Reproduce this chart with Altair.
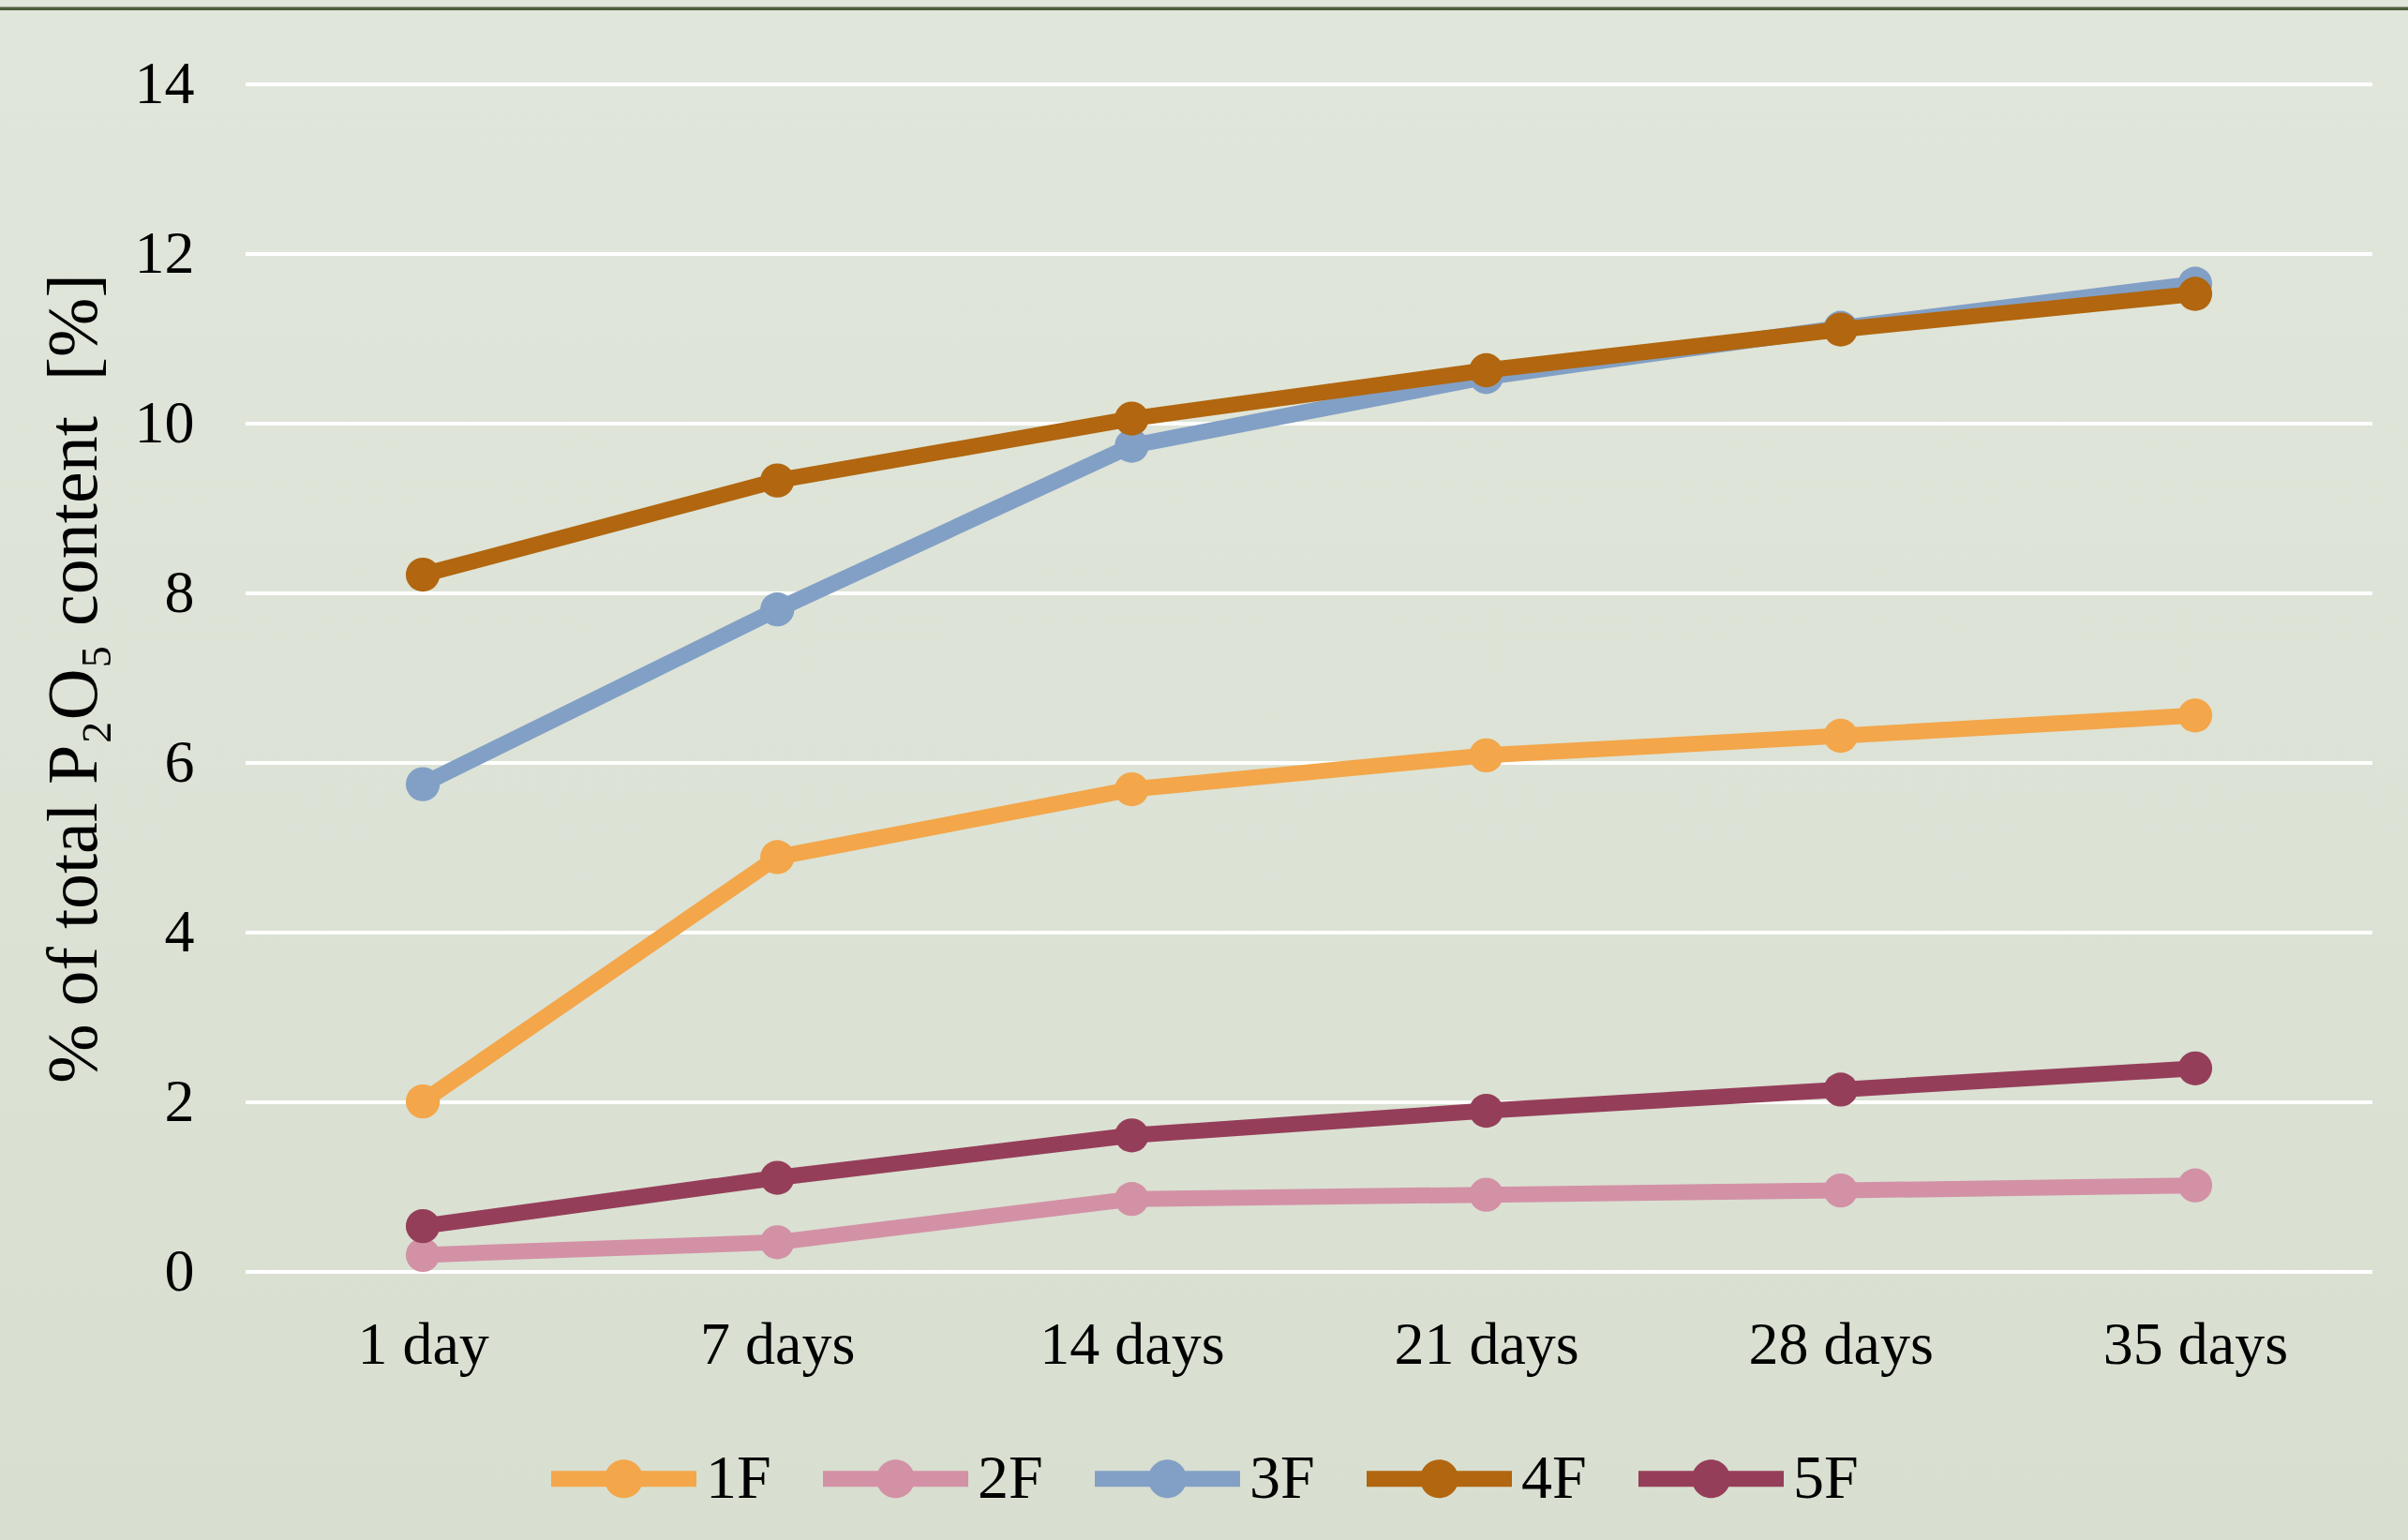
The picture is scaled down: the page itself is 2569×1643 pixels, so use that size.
import altair as alt
import pandas as pd

# ---- data ----
days = ["1 day", "7 days", "14 days", "21 days", "28 days", "35 days"]
series = ["1F", "2F", "3F", "4F", "5F"]
v_1F = [2.01, 4.89, 5.69, 6.09, 6.32, 6.56]
v_2F = [0.20, 0.35, 0.86, 0.91, 0.96, 1.02]
v_3F = [5.75, 7.81, 9.74, 10.55, 11.13, 11.65]
v_4F = [8.22, 9.33, 10.06, 10.63, 11.11, 11.53]
v_5F = [0.54, 1.11, 1.61, 1.90, 2.15, 2.40]
colors = ["#F3A64A", "#D391A6", "#82A0C6", "#B1660F", "#953E5A"]
y_ticks = [0, 2, 4, 6, 8, 10, 12, 14]
y_title = "% of total P₂O₅ content \u00a0[%]"

values = {"1F": v_1F, "2F": v_2F, "3F": v_3F, "4F": v_4F, "5F": v_5F}
rows = []
for s in series:
    for d, v in zip(days, values[s]):
        rows.append({"series": s, "day": d, "value": v})
df = pd.DataFrame(rows)
grid_df = pd.DataFrame({"value": y_ticks})

# ---- layout ----
W, H = 2269, 1267
PL, PT, PR, PB = 262, 90, 38, 286
FONT = "Liberation Serif"
FS = 64

y_scale = alt.Scale(domain=[0, 14], nice=False, zero=True)
y_axis = alt.Axis(values=y_ticks, grid=False, domain=False, ticks=False,
                  labelFont=FONT, labelFontSize=FS, labelColor="black",
                  labelPadding=55, title=y_title, titleFont=FONT,
                  titleFontSize=76, titleFontWeight="normal", titleColor="black",
                  titleX=-160, titleY=H / 2, titleAngle=270,
                  titleAlign="center", titleBaseline="alphabetic",
                  titleLimit=0, zindex=1)
x_scale = alt.Scale(domain=days, padding=0.5)
x_axis = alt.Axis(domain=False, ticks=False, grid=False, labelAngle=0,
                  labelFont=FONT, labelFontSize=FS, labelColor="black",
                  labelPadding=46, labelLimit=0, title=None, zindex=1)

def y_enc():
    return alt.Y("value:Q", scale=y_scale, axis=y_axis)

one = alt.Data(values=[{}])

background = alt.Chart(one).mark_rect(
    color=alt.Gradient(gradient="linear",
                       stops=[alt.GradientStop(color="#E1E6DB", offset=0),
                              alt.GradientStop(color="#D8DFD0", offset=1)],
                       x1=0, x2=0, y1=0, y2=1)
).encode(x=alt.value(-PL), x2=alt.value(W + PR),
         y=alt.value(-PT), y2=alt.value(H + PB))

border_light = alt.Chart(one).mark_rule(color="#8C9680", strokeWidth=1).encode(
    x=alt.value(-PL), x2=alt.value(W + PR), y=alt.value(-PT + 7.5))
border_dark = alt.Chart(one).mark_rule(color="#4E5E3C", strokeWidth=3).encode(
    x=alt.value(-PL), x2=alt.value(W + PR), y=alt.value(-PT + 9.5))

grid = alt.Chart(grid_df).mark_rule(color="white", strokeWidth=4).encode(
    y=y_enc(), x=alt.value(0), x2=alt.value(W))

legend_path = ("M-1,-0.11L1,-0.11L1,0.11L-1,0.11Z "
               "M0.265,0A0.265,0.265 0 1,1 -0.265,0A0.265,0.265 0 1,1 0.265,0Z")
color_scale = alt.Scale(domain=series, range=colors)
legend = alt.Legend(title=None, orient="none", direction="horizontal",
                    legendX=326, legendY=1410, padding=0,
                    symbolType=legend_path, symbolSize=155 * 155,
                    symbolStrokeWidth=0, symbolOpacity=1,
                    labelFont=FONT, labelFontSize=66, labelColor="black",
                    labelOffset=10, columnPadding=55, zindex=1)

layers = [background, border_light, border_dark, grid]
for s, c in zip(series, colors):
    base = alt.Chart(df).transform_filter(alt.datum.series == s)
    line = base.mark_line(color=c, strokeWidth=17, strokeJoin="round",
                          strokeCap="round").encode(
        x=alt.X("day:O", scale=x_scale, axis=x_axis, sort=days),
        y=y_enc(),
    )
    pts = base.mark_point(filled=True, size=1320, opacity=1, shape="circle",
                          strokeWidth=0).encode(
        x=alt.X("day:O", scale=x_scale, axis=x_axis, sort=days),
        y=y_enc(),
        fill=alt.Fill("series:N", scale=color_scale, legend=legend),
    )
    layers += [line, pts]

chart = alt.layer(*layers).properties(
    width=W, height=H,
    padding={"left": PL, "top": PT, "right": PR, "bottom": PB},
    autosize=alt.AutoSizeParams(type="none"),
).configure(background="#DDE3D6").configure_view(stroke=None)

chart.save("out.html", embed_options={"renderer": "svg", "actions": False})
